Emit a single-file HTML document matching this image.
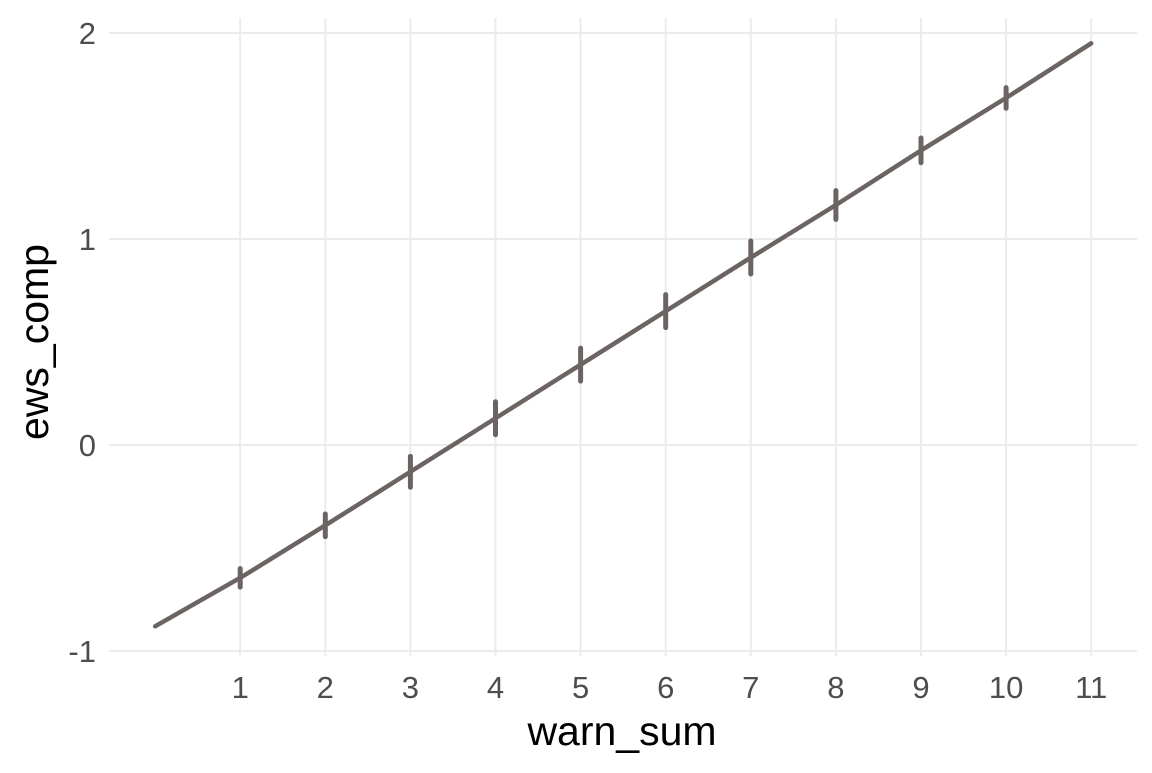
<!DOCTYPE html>
<html><head><meta charset="utf-8"><style>
body{margin:0;background:#fff;}
svg text{font-family:"Liberation Sans",Arial,sans-serif;}
</style></head><body>
<svg id="chart" width="1152" height="768" xmlns="http://www.w3.org/2000/svg">
<g id="grid"></g>
<g id="axes"></g>
<g id="marks"></g>
<text x="622" y="745" font-size="41" text-anchor="middle" fill="#000">warn_sum</text>
<text transform="translate(48,342) rotate(-90)" font-size="41" text-anchor="middle" fill="#000">ews_comp</text>
</svg>
<script>
const xs = [0,1,2,3,4,5,6,7,8,9,10,11];
const ys = [-0.88,-0.645,-0.39,-0.13,0.13,0.39,0.65,0.91,1.165,1.43,1.685,1.95];
const errs = [0,0.045,0.055,0.075,0.08,0.08,0.08,0.08,0.07,0.06,0.05,0];
const xTicks = [1,2,3,4,5,6,7,8,9,10,11];
const yTicks = [-1,0,1,2];
const X = v => 155.1 + v*85.1;
const Y = v => 445 - v*206;
const NS = "http://www.w3.org/2000/svg";
function mk(tag, attrs, parent){const e=document.createElementNS(NS,tag);for(const k in attrs)e.setAttribute(k,attrs[k]);parent.appendChild(e);return e;}
const grid=document.getElementById('grid'), axes=document.getElementById('axes'), marks=document.getElementById('marks');
yTicks.forEach(t=>{
  const l=mk('line',{x1:109,x2:1137,y1:Y(t),y2:Y(t),stroke:'#ebebeb','stroke-width':2},grid);
  
  
  const tx=mk('text',{x:96,y:Y(t)+11,'font-size':31,'text-anchor':'end',fill:'#4d4d4d'},axes);
  tx.textContent=t;
  
  
});
xTicks.forEach(t=>{
  const l=mk('line',{x1:X(t),x2:X(t),y1:18,y2:656,stroke:'#ebebeb','stroke-width':2},grid);
  
  
  const tx=mk('text',{x:X(t),y:698,'font-size':31,'text-anchor':'middle',fill:'#4d4d4d'},axes);
  tx.textContent=t;
  
  
});
const p=mk('polyline',{points:xs.map((x,i)=>X(x)+','+Y(ys[i])).join(' '),fill:'none',stroke:'#6b6462','stroke-width':4.5,'stroke-linecap':'round'},marks);


xs.forEach((x,i)=>{
  if(!errs[i])return;
  const e=mk('line',{x1:X(x),x2:X(x),y1:Y(ys[i]+errs[i]),y2:Y(ys[i]-errs[i]),stroke:'#6b6462','stroke-width':5,'stroke-linecap':'round'},marks);
  
  
});
</script>
</body></html>
